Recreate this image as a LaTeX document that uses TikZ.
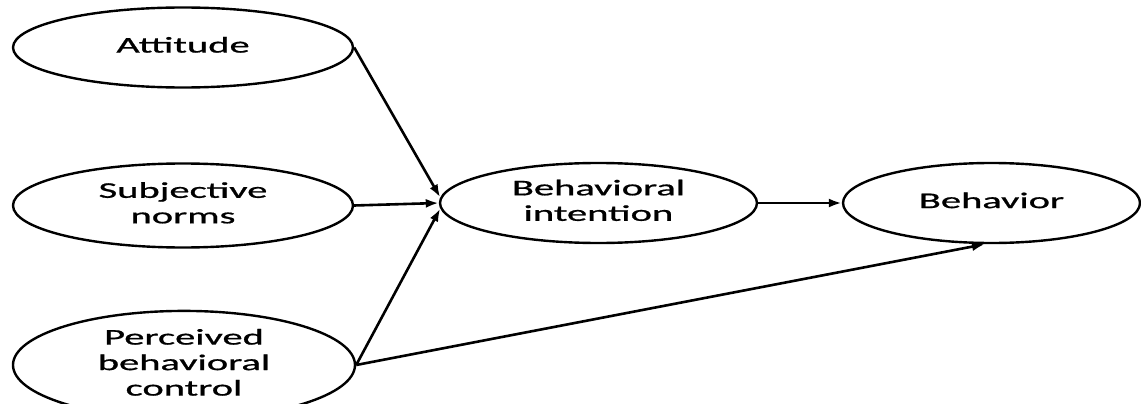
\documentclass[tikz,border=0pt]{standalone}
\usepackage{fontspec}
\setmainfont{Carlito}
\newfontfamily\lblfont{Carlito}[FakeBold=0.7]
\usepackage{graphicx}
\usetikzlibrary{shapes.geometric,arrows.meta}
% wide, centred, multi-line label text
\newcommand{\elabel}[1]{\scalebox{1.8}[1]{\begin{tabular}{@{}c@{}}#1\end{tabular}}}

\begin{document}
\begin{tikzpicture}[x=1pt,y=1pt,
  construct/.style={ellipse, draw, line width=2.4pt, inner sep=0pt,
    font=\lblfont\fontsize{22.5}{25.5}\selectfont},
  link/.style={-{Latex[length=13pt,width=9pt]}, line width=2.6pt}]
\useasboundingbox (0,0) rectangle (1141,-404);

% predictors
\node[construct, minimum width=340pt, minimum height=80pt] (att) at (183,-47.5) {\elabel{Attitude}};
\node[construct, minimum width=340pt, minimum height=84pt] (sn) at (183,-205.5) {\elabel{Subjective\\norms}};
\node[construct, minimum width=342pt, minimum height=78pt] (pbc) at (184,-365) {\elabel{Perceived\\behavioral\\control}};

% intention and behaviour
\node[construct, minimum width=317pt, minimum height=80pt] (bi) at (598.5,-203) {\elabel{Behavioral\\intention}};
\node[construct, minimum width=297pt, minimum height=80pt] (beh) at (991.5,-203) {\elabel{Behavior}};

% paths
\draw[link] (att.east) -- (bi.178);
\draw[link] (sn.east) -- (bi.west);
\draw[link] (pbc.east) -- (bi.182);
\draw[link] (bi.east) -- (beh.west);
\draw[link] (pbc.east) -- (beh.261);
\end{tikzpicture}
\end{document}
